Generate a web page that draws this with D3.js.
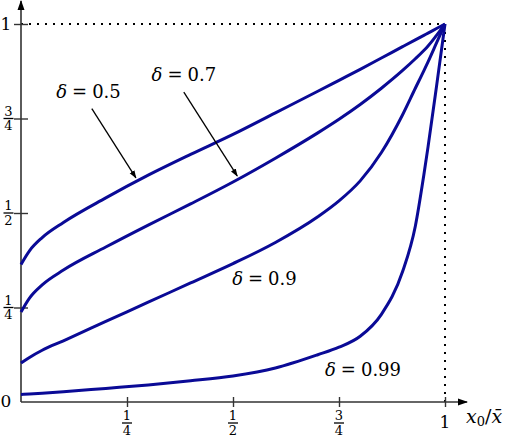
<!DOCTYPE html>
<html>
<head>
<meta charset="utf-8">
<script src="https://cdn.jsdelivr.net/npm/d3@7"></script>
<style>
  body { margin: 0; background: #fff; }
  svg { display: block; }
</style>
</head>
<body>
<div id="chart"></div>
<script>
// values (x0 / x-bar on the horizontal axis)
const xGrid = [0, 0.02, 0.05, 0.1, 0.2, 0.3, 0.4, 0.5, 0.6, 0.7, 0.75, 0.8, 0.85, 0.9, 0.93, 0.95, 0.96, 0.98, 1];
const delta05 = [0.364, 0.40, 0.435, 0.475, 0.54, 0.60, 0.655, 0.708, 0.765, 0.822, 0.851, 0.88, 0.91, 0.94, 0.958, 0.97, 0.976, 0.988, 1];
const delta07 = [0.238, 0.275, 0.31, 0.349, 0.41, 0.468, 0.524, 0.582, 0.645, 0.712, 0.748, 0.787, 0.83, 0.877, 0.908, 0.93, 0.942, 0.97, 1];
const delta09 = [0.103, 0.118, 0.137, 0.162, 0.213, 0.264, 0.315, 0.366, 0.422, 0.49, 0.532, 0.585, 0.66, 0.76, 0.83, 0.876, 0.9, 0.95, 1];
const delta099 = [0.02, 0.021, 0.023, 0.027, 0.036, 0.045, 0.056, 0.069, 0.09, 0.125, 0.145, 0.174, 0.232, 0.345, 0.465, 0.6, 0.675, 0.835, 1];

const seriesNames = ["0.5", "0.7", "0.9", "0.99"];
const seriesValues = [delta05, delta07, delta09, delta099];

const xTicks = [0.25, 0.5, 0.75, 1];
const xTickLabels = ["1/4", "1/2", "3/4", "1"];
const yTicks = [0, 0.25, 0.5, 0.75, 1];
const yTickLabels = ["0", "1/4", "1/2", "3/4", "1"];

// label anchors and arrows, in data units
const labelSpots = [
  {name: "0.5", x: 0.083, y: 0.803, arrow: [[0.167, 0.776], [0.271, 0.593]]},
  {name: "0.7", x: 0.308, y: 0.848, arrow: [[0.384, 0.820], [0.510, 0.598]]},
  {name: "0.9", x: 0.498, y: 0.309, arrow: null},
  {name: "0.99", x: 0.717, y: 0.069, arrow: null}
];

const W = 510, H = 437;
const axisColor = "#333";
const curveColor = "#0a0a96";
const serif = "DejaVu Serif";

const svg = d3.select("#chart")
  .append("svg")
    .attr("width", W)
    .attr("height", H);

const x = d3.scaleLinear().domain([0, 1]).range([21, 445]);
const y = d3.scaleLinear().domain([0, 1]).range([402, 24]);

const defs = svg.append("defs");
defs.append("marker")
    .attr("id", "axisHead")
    .attr("viewBox", "0 0 10 10")
    .attr("refX", 9).attr("refY", 5)
    .attr("markerWidth", 10).attr("markerHeight", 10)
    .attr("markerUnits", "userSpaceOnUse")
    .attr("orient", "auto")
  .append("path")
    .attr("d", "M0,1.5 L10,5 L0,8.5 Z")
    .attr("fill", "#000");
defs.append("marker")
    .attr("id", "labelHead")
    .attr("viewBox", "0 0 10 10")
    .attr("refX", 9).attr("refY", 5)
    .attr("markerWidth", 8).attr("markerHeight", 8)
    .attr("markerUnits", "userSpaceOnUse")
    .attr("orient", "auto")
  .append("path")
    .attr("d", "M0,1.5 L10,5 L0,8.5 Z")
    .attr("fill", "#000");

// dotted guides at (1,1)
svg.append("line")
  .attr("x1", x(0)).attr("y1", y(1))
  .attr("x2", x(1)).attr("y2", y(1))
  .attr("stroke", "#000").attr("stroke-width", 2)
  .attr("stroke-dasharray", "2,6");
svg.append("line")
  .attr("x1", x(1)).attr("y1", y(1))
  .attr("x2", x(1)).attr("y2", y(0))
  .attr("stroke", "#000").attr("stroke-width", 2)
  .attr("stroke-dasharray", "2,6");

// axes lines with arrows
svg.append("line")
  .attr("x1", x(0)).attr("y1", y(0))
  .attr("x2", 467).attr("y2", y(0))
  .attr("stroke", axisColor).attr("stroke-width", 1.6)
  .attr("marker-end", "url(#axisHead)");
svg.append("line")
  .attr("x1", x(0)).attr("y1", y(0))
  .attr("x2", x(0)).attr("y2", 1)
  .attr("stroke", axisColor).attr("stroke-width", 1.6)
  .attr("marker-end", "url(#axisHead)");

// ticks through the d3 axes, then pushed to both sides of the line
const xAxis = svg.append("g")
  .attr("transform", "translate(0," + y(0) + ")")
  .call(d3.axisBottom(x).tickValues(xTicks).tickSize(6).tickFormat(""));
xAxis.select(".domain").remove();
xAxis.selectAll(".tick line")
  .attr("y1", -5).attr("y2", 5)
  .attr("stroke", axisColor).attr("stroke-width", 1.4);

const yAxis = svg.append("g")
  .attr("transform", "translate(" + x(0) + ",0)")
  .call(d3.axisLeft(y).tickValues(yTicks.slice(1)).tickSize(7).tickFormat(""));
yAxis.select(".domain").remove();
yAxis.selectAll(".tick line")
  .attr("x1", -7).attr("x2", 7)
  .attr("stroke", axisColor).attr("stroke-width", 1.4);

function drawLabel(g, label, cx, cy, bigSize, fracSize) {
  const parts = label.split("/");
  if (parts.length == 1) {
    g.append("text")
      .attr("x", cx).attr("y", cy)
      .attr("text-anchor", "middle")
      .attr("font-family", serif)
      .attr("font-size", bigSize)
      .text(label);
    return;
  }
  g.append("text")
    .attr("x", cx).attr("y", cy - 3)
    .attr("text-anchor", "middle")
    .attr("font-family", serif)
    .attr("font-size", fracSize)
    .text(parts[0]);
  g.append("line")
    .attr("x1", cx - 5).attr("x2", cx + 5)
    .attr("y1", cy).attr("y2", cy)
    .attr("stroke", "#000").attr("stroke-width", 1.3);
  g.append("text")
    .attr("x", cx).attr("y", cy + 11.5)
    .attr("text-anchor", "middle")
    .attr("font-family", serif)
    .attr("font-size", fracSize)
    .text(parts[1]);
}

const tickText = svg.append("g");
xTicks.forEach((t, i) => {
  if (xTickLabels[i] == "1") {
    drawLabel(tickText, xTickLabels[i], x(t), 428, 17, 13);
  } else {
    drawLabel(tickText, xTickLabels[i], x(t), 423, 17, 13);
  }
});
yTicks.forEach((t, i) => {
  if (t == 0) {
    drawLabel(tickText, yTickLabels[i], 6, 407, 17, 13);
  } else if (t == 1) {
    drawLabel(tickText, yTickLabels[i], 6, y(t) + 6, 17, 13);
  } else {
    drawLabel(tickText, yTickLabels[i], 8.5, y(t), 17, 13);
  }
});

// x axis title: x0 / x-bar
const xTitle = svg.append("text")
  .attr("x", 466).attr("y", 423)
  .attr("font-family", serif)
  .attr("font-size", 19);
xTitle.append("tspan").attr("font-style", "italic").text("x");
xTitle.append("tspan").attr("dy", 3).attr("font-size", 13).text("0");
xTitle.append("tspan").attr("dy", -3).text("/");
xTitle.append("tspan").attr("font-style", "italic").text("x\u0304");

// curves
const line = d3.line()
  .x(d => x(d[0]))
  .y(d => y(d[1]))
  .curve(d3.curveMonotoneX);

svg.append("g")
  .selectAll("path")
  .data(seriesValues)
  .join("path")
    .attr("d", vals => line(xGrid.map((xv, i) => [xv, vals[i]])))
    .attr("fill", "none")
    .attr("stroke", curveColor)
    .attr("stroke-width", 3)
    .attr("stroke-linejoin", "round");

// delta labels and arrows
labelSpots.forEach(s => {
  const t = svg.append("text")
    .attr("x", x(s.x)).attr("y", y(s.y))
    .attr("font-family", serif)
    .attr("font-size", 18);
  t.append("tspan").attr("font-style", "italic").text("δ");
  t.append("tspan").attr("dx", 5).text("=");
  t.append("tspan").attr("dx", 5).text(s.name);

  if (s.arrow) {
    svg.append("line")
      .attr("x1", x(s.arrow[0][0])).attr("y1", y(s.arrow[0][1]))
      .attr("x2", x(s.arrow[1][0])).attr("y2", y(s.arrow[1][1]))
      .attr("stroke", "#000").attr("stroke-width", 1.3)
      .attr("marker-end", "url(#labelHead)");
  }
});
</script>
</body>
</html>
